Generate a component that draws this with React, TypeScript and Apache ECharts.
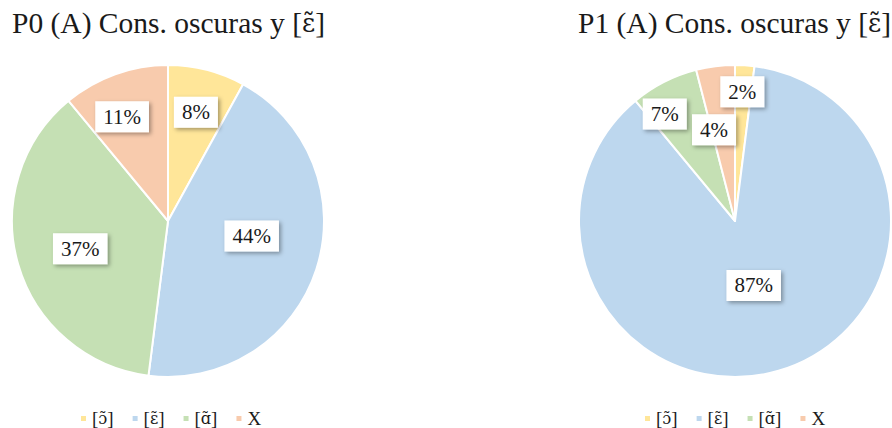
import React, { useEffect, useRef } from "react";
import * as echarts from "echarts";

const CATEGORIES = ["[\u0254\u0303]", "[\u025B\u0303]", "[\u0251\u0303]", "X"];
const P0_VALUES = [8, 44, 37, 11];
const P1_VALUES = [2, 87, 7, 4];
const TITLES = ["P0 (A) Cons. oscuras y [\u025B\u0303]", "P1 (A) Cons. oscuras y [\u025B\u0303]"];
const COLORS = ["#FFE699", "#BDD7EE", "#C5E0B4", "#F8CBAD"];

// value box placement per slice: [position along the slice's arc (0..1), fraction of the radius]
const LABEL_PLACE: [number, number][][] = [
  [
    [0.5, 0.72],
    [0.45, 0.545],
    [0.49, 0.59],
    [0.4, 0.73],
  ],
  [
    [0.45, 0.83],
    [0.5, 0.43],
    [0.25, 0.82],
    [0.1, 0.6],
  ],
];

const SERIF = "'Liberation Serif', 'DejaVu Serif', serif";
const IPA_FONT = "'DejaVu Serif', serif";
const CENTERS: [number, number][] = [
  [168, 221],
  [735, 221],
];
const RADIUS = 156;

// wrap IPA letters (with their combining marks) in a rich segment so the tilde sits right
function ipaRich(text: string) {
  return text.replace(/([\u0250-\u02AF]\u0303)/g, "{ipa|$1}");
}

function labelPoint(values: number[], idx: number, seriesIdx: number) {
  const total = values.reduce((a, b) => a + b, 0);
  let before = 0;
  for (let i = 0; i < idx; i++) before += values[i];
  const [along, radial] = LABEL_PLACE[seriesIdx][idx];
  const pos = (before + values[idx] * along) / total;
  const theta = Math.PI / 2 - pos * Math.PI * 2;
  const r = RADIUS * radial;
  const [cx, cy] = CENTERS[seriesIdx];
  return { x: cx + r * Math.cos(theta), y: cy - r * Math.sin(theta) };
}

export default function App() {
  const ref = useRef<HTMLDivElement>(null);

  useEffect(() => {
    if (!ref.current) return;
    const chart = echarts.init(ref.current, undefined, { renderer: "svg" });
    const seriesValues = [P0_VALUES, P1_VALUES];

    const makeSeries = (values: number[], s: number) => ({
      type: "pie",
      center: CENTERS[s],
      radius: RADIUS,
      startAngle: 90,
      clockwise: true,
      avoidLabelOverlap: false,
      data: values.map((v, i) => ({
        name: CATEGORIES[i],
        value: v,
        itemStyle: { color: COLORS[i] },
      })),
      itemStyle: { borderColor: "#ffffff", borderWidth: 2 },
      label: {
        show: true,
        position: "inside",
        formatter: "{c}%",
        fontFamily: SERIF,
        fontSize: 21,
        color: "#1a1a1a",
        backgroundColor: "#ffffff",
        padding: [6, 8, 4, 8],
        shadowColor: "rgba(0,0,0,0.35)",
        shadowBlur: 4,
        shadowOffsetX: 2,
        shadowOffsetY: 2,
      },
      labelLine: { show: false },
      emphasis: { disabled: true },
      labelLayout: (params: any) => {
        const p = labelPoint(values, params.dataIndex, s);
        return { x: p.x, y: p.y, align: "center", verticalAlign: "middle" };
      },
    });

    const titleStyle = {
      fontFamily: SERIF,
      fontSize: 29.5,
      fontWeight: "normal",
      color: "#1a1a1a",
      rich: { ipa: { fontFamily: IPA_FONT, fontSize: 25.5, color: "#1a1a1a" } },
    };

    chart.setOption({
      animation: false,
      title: [
        { text: ipaRich(TITLES[0]), left: 7, top: 3, textStyle: titleStyle },
        { text: ipaRich(TITLES[1]), left: 573, top: 3, textStyle: titleStyle },
      ],
      legend: [0, 1].map((s) => ({
        data: CATEGORIES,
        left: s === 0 ? 74 : 638,
        top: 404,
        icon: "rect",
        itemWidth: 7,
        itemHeight: 7,
        itemGap: 17,
        selectedMode: false,
        formatter: (name: string) => ipaRich(name),
        textStyle: {
          fontFamily: SERIF,
          fontSize: 19,
          color: "#1a1a1a",
          rich: { ipa: { fontFamily: IPA_FONT, fontSize: 16, color: "#1a1a1a" } },
        },
      })),
      series: seriesValues.map((v, s) => makeSeries(v, s)),
    });

    return () => chart.dispose();
  }, []);

  return (
    <div
      ref={ref}
      style={{ position: "absolute", left: 0, top: 0, width: 892, height: 428, background: "#ffffff" }}
    />
  );
}
